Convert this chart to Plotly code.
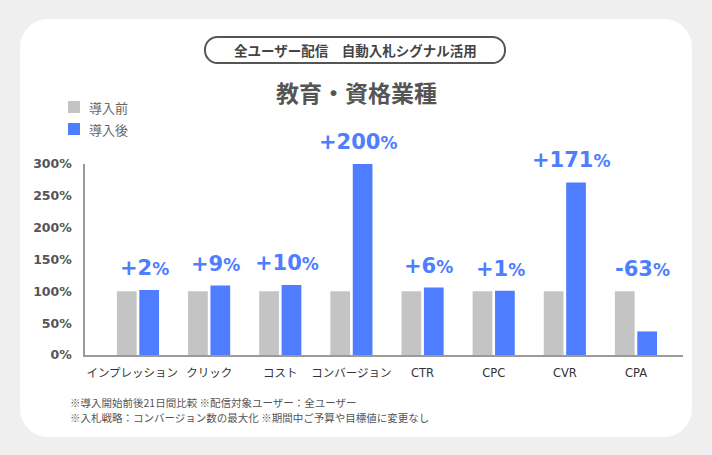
import plotly.graph_objects as go

categories = ["インプレッション", "クリック", "コスト", "コンバージョン", "CTR", "CPC", "CVR", "CPA"]
tick_labels = ["インプレッション\u3000", "クリック", "コスト", "コンバージョン", "CTR", "CPC", "CVR", "CPA"]
before = [100, 100, 100, 100, 100, 100, 100, 100]
after = [102, 109, 110, 300, 106, 101, 271, 37]
change_labels = ["+2", "+9", "+10", "+200", "+6", "+1", "+171", "-63"]
series_names = ["導入前", "導入後"]
y_ticks = [0, 50, 100, 150, 200, 250, 300]
y_tick_text = ["0%", "50%", "100%", "150%", "200%", "250%", "300%"]
header_text = "全ユーザー配信　自動入札シグナル活用"
title_text = "教育・資格業種"
notes = ["※導入開始前後21日間比較 ※配信対象ユーザー：全ユーザー",
         "※入札戦略：コンバージョン数の最大化 ※期間中ご予算や目標値に変更なし"]

GREY = "#C4C4C4"
BLUE = "#4F7DFF"
W, H = 712, 455
L, R, T, B = 85, 683, 164, 355
JP = "Noto Sans CJK JP"
NUM = "DejaVu Sans, Noto Sans CJK JP"


def px(x):
    return (x - L) / (R - L)


def py(y):
    return (B - y) / (B - T)


def rounded_path(x0, y0, x1, y1, r):
    k = 0.5523 * r
    pts = [
        ("M", [(x0 + r, y0)]),
        ("L", [(x1 - r, y0)]),
        ("C", [(x1 - r + k, y0), (x1, y0 + r - k), (x1, y0 + r)]),
        ("L", [(x1, y1 - r)]),
        ("C", [(x1, y1 - r + k), (x1 - r + k, y1), (x1 - r, y1)]),
        ("L", [(x0 + r, y1)]),
        ("C", [(x0 + r - k, y1), (x0, y1 - r + k), (x0, y1 - r)]),
        ("L", [(x0, y0 + r)]),
        ("C", [(x0, y0 + r - k), (x0 + r - k, y0), (x0 + r, y0)]),
    ]
    s = ""
    for cmd, ps in pts:
        s += cmd + " ".join(f"{px(a):.5f},{py(b):.5f}" for a, b in ps)
    return s + "Z"


fig = go.Figure()
fig.add_trace(go.Bar(x=categories, y=before, name=series_names[0], marker_color=GREY,
                     marker_line_width=0, showlegend=False))
fig.add_trace(go.Bar(x=categories, y=after, name=series_names[1], marker_color=BLUE,
                     marker_line_width=0, showlegend=False))

shapes = [
    dict(type="path", xref="paper", yref="paper", path=rounded_path(20, 19, 692, 437, 28),
         fillcolor="white", line_width=0, layer="below"),
    dict(type="path", xref="paper", yref="paper", path=rounded_path(205, 37, 505, 63, 12.5),
         fillcolor="rgba(0,0,0,0)", line=dict(color="#555555", width=2), layer="above"),
    # legend swatches
    dict(type="rect", xref="paper", yref="paper", x0=px(68), x1=px(80), y0=py(113), y1=py(101),
         fillcolor=GREY, line_width=0),
    dict(type="rect", xref="paper", yref="paper", x0=px(68), x1=px(80), y0=py(135), y1=py(123),
         fillcolor=BLUE, line_width=0),
]

annotations = [
    dict(xref="paper", yref="paper", x=px(355), y=py(50), text=f"<b>{header_text}</b>",
         showarrow=False, font=dict(family=JP, size=13.5, color="#444444"),
         xanchor="center", yanchor="middle"),
    dict(xref="paper", yref="paper", x=px(356), y=py(92), text=f"<b>{title_text}</b>",
         showarrow=False, font=dict(family=JP, size=23, color="#555555"),
         xanchor="center", yanchor="middle"),
    dict(xref="paper", yref="paper", x=px(87), y=py(107), text=series_names[0],
         showarrow=False, font=dict(family=JP, size=13, color="#666666"),
         xanchor="left", yanchor="middle"),
    dict(xref="paper", yref="paper", x=px(87), y=py(129), text=series_names[1],
         showarrow=False, font=dict(family=JP, size=13, color="#666666"),
         xanchor="left", yanchor="middle"),
    dict(xref="paper", yref="paper", x=px(68), y=py(402), text=notes[0],
         showarrow=False, font=dict(family=JP, size=10.5, color="#555555"),
         xanchor="left", yanchor="middle"),
    dict(xref="paper", yref="paper", x=px(68), y=py(417), text=notes[1],
         showarrow=False, font=dict(family=JP, size=10.5, color="#555555"),
         xanchor="left", yanchor="middle"),
]

for i, (lab, b, a) in enumerate(zip(change_labels, before, after)):
    annotations.append(dict(
        xref="x", yref="y", x=i + 0.09, y=max(a, b),
        text=f"<b>{lab}<span style='font-size:17px'>%</span></b>",
        showarrow=False, xanchor="center", yanchor="bottom", yshift=8,
        font=dict(family=NUM, size=21, color=BLUE),
    ))

fig.update_layout(
    width=W, height=H,
    margin=dict(l=L, r=W - R, t=T, b=H - B, pad=0),
    paper_bgcolor="#EFEFEF",
    plot_bgcolor="rgba(0,0,0,0)",
    barmode="group", bargap=0.37, bargroupgap=0.12,
    shapes=shapes, annotations=annotations,
    showlegend=False,
    xaxis=dict(type="category", range=[-0.745, 7.661], showgrid=False, zeroline=False,
               tickvals=categories, ticktext=tick_labels,
               showline=True, linecolor="#9A9A9A", linewidth=1.5, ticks="",
               tickangle=0, automargin=False, ticklabelstandoff=6,
               tickfont=dict(family=NUM, size=11.5, color="#333333")),
    yaxis=dict(range=[0, 300], tickvals=y_ticks, ticktext=y_tick_text, showgrid=False,
               zeroline=False, showline=True, linecolor="#9A9A9A", linewidth=1.5, ticks="",
               automargin=False, ticklabelstandoff=9,
               tickfont=dict(family=NUM, size=12.5, color="#555555", weight="bold")),
)

fig.write_html("out.html")
